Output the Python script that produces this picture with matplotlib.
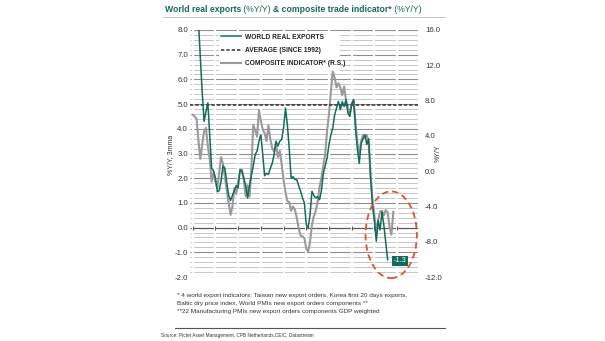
import numpy as np
import pandas as pd
import matplotlib
matplotlib.use("Agg")
import matplotlib.pyplot as plt
from matplotlib.patches import Ellipse, Rectangle
from matplotlib.lines import Line2D

plt.rcParams['font.family'] = ['Liberation Sans Narrow', 'Liberation Sans', 'DejaVu Sans']

# ---- data -------------------------------------------------------------
exports_start = "2011-04-01"
world_real_exports = [
    8.4, 6.9, 5.5, 4.3, 4.7, 5.05, 3.7, 2.4, 2.3, 2.0, 1.45, 1.5, 1.9, 2.5,
    2.4, 1.8, 1.3, 1.1, 1.3, 1.5, 1.7, 1.6, 2.35, 2.28, 2.0, 1.7, 1.2, 1.7,
    2.1, 2.5, 2.95, 3.1, 3.5, 3.76, 2.95, 2.1, 2.2, 2.15, 2.4, 2.6, 2.95,
    3.5, 3.3, 3.5, 3.56, 4.03, 4.84, 4.17, 3.2, 2.0, 2.06, 1.95, 1.94, 1.7,
    1.47, 1.2, 1.0, 0.12, 0.0, 0.52, 1.47, 1.3, 1.2, 1.25, 1.13, 1.5, 2.2,
    2.5, 2.82, 3.36, 3.76, 4.03, 4.57, 4.84, 5.11, 4.77, 5.1, 4.9, 5.18,
    4.64, 4.5, 5.0, 5.18, 4.03, 3.2, 2.6, 3.4, 3.6, 3.76, 3.36, 3.6, 2.0,
    0.9, 0.25, -0.55, 0.3, -0.1, 0.64, 0.1, -0.6, -1.3,
]

composite_start = "2011-01-01"
composite_indicator = [
    6.4, 6.2, 6.0, 3.5, 1.4, 3.0, 4.5, 4.9, 2.8, 1.3, -1.2, -0.1, -1.2, -1.9,
    -0.2, 1.6, 0.8, -0.6, -2.2, -3.6, -4.95, -4.0, -1.9, -2.6, -1.2, 0.0,
    0.16, -1.0, -2.86, -1.6, -2.9, 0.35, 5.27, 4.6, 3.9, 6.9, 5.7, 4.7, 4.3,
    3.4, 5.2, 3.6, 2.6, 2.2, 3.1, 1.6, 2.3, 0.8, -1.0, -2.4, -3.4, -3.5,
    -4.5, -4.0, -4.4, -5.3, -6.5, -7.3, -7.4, -7.6, -8.8, -9.1, -8.0, -6.1,
    -5.1, -4.5, -3.5, -1.8, -0.8, 0.6, 2.0, 4.5, 6.5, 9.0, 11.3, 10.6, 9.5,
    9.96, 9.5, 8.6, 9.6, 8.0, 7.2, 6.4, 7.6, 8.1, 5.6, 3.2, 1.9, 3.4, 4.1,
    3.8, 4.1, 3.0, -0.4, -3.2, -5.0, -7.0, -5.5, -4.6, -4.5, -5.0, -4.4,
    -4.7, -6.3, -7.2, -4.6,
]

average_since_1992 = 4.95
year_ticks = list(range(2011, 2021))
year_labels = [f"{y % 100:02d}" for y in year_ticks]

left_ticks = np.arange(-2, 9, 1)
right_ticks = np.arange(-12, 17, 4)

# ---- colours ----------------------------------------------------------
TEAL = "#146b5b"
GREY_LINE = "#9a9a9a"
AVG = "#3a2a2a"
RED = "#e0532a"
TXT = "#333333"


def fractional_years(start, n):
    d = pd.date_range(start, periods=n, freq="MS")
    return d.year + (d.month - 1) / 12.0


x_exp = fractional_years(exports_start, len(world_real_exports))
x_comp = fractional_years(composite_start, len(composite_indicator))

fig = plt.figure(figsize=(6.05, 3.41), dpi=100)
W, H = 605.0, 341.0
ax2 = fig.add_axes([190 / W, 64 / H, 228 / W, 247 / H])
ax = ax2.twinx()
ax.yaxis.tick_left()
ax2.yaxis.tick_right()
ax.set_zorder(ax2.get_zorder() + 1)
ax.patch.set_visible(False)

ax.set_xlim(2010.88, 2020.92)
ax.set_ylim(-2, 8)
ax2.set_ylim(-12, 16)

for a in (ax, ax2):
    for s in a.spines.values():
        s.set_visible(False)
    a.tick_params(length=0, labelsize=5.6, colors=TXT)

# background grid (left-axis units), drawn on the lower axes
minor_levels = [v for v in np.round(np.arange(-2, 8.01, 0.2), 1) if abs(v - round(v)) > 1e-6]
ax2.hlines(minor_levels, 2010.88, 2020.92, colors="#c6c6c6", lw=0.7,
           transform=ax.transData, zorder=0.5)
ax2.hlines([v for v in left_ticks if v != 0], 2010.88, 2020.92, colors="#8e8e8e",
           lw=0.8, transform=ax.transData, zorder=0.6)
ax2.hlines([0], 2010.88, 2020.92, colors="#5a5a5a", lw=0.9,
           transform=ax.transData, zorder=0.7)
# short year gaps in the grid
ax2.vlines(year_ticks, -2.1, 8.1, colors="white", lw=1.6,
           transform=ax.transData, zorder=0.8)
ax2.vlines(year_ticks, -0.08, 0.08, colors="#5a5a5a", lw=0.8,
           transform=ax.transData, zorder=0.9)
# white panel behind the legend
ax2.add_patch(Rectangle((0.127, 0.828), 0.53, 0.168, transform=ax2.transAxes,
                        facecolor="white", edgecolor="none", zorder=1))

# composite indicator on the right axis
comp_line, = ax2.plot(x_comp, composite_indicator, color=GREY_LINE, lw=1.5,
                      zorder=3, label="COMPOSITE INDICATOR* (R.S.)")

# average and world real exports on the left axis
avg_line = ax.axhline(average_since_1992, color=AVG, lw=1.1, ls=(0, (2.2, 1.3)),
                      zorder=2, label="AVERAGE (SINCE 1992)")
exp_line, = ax.plot(x_exp, world_real_exports, color=TEAL, lw=1.1, zorder=4,
                    label="WORLD REAL EXPORTS")

# highlight around the latest readings
ax.add_patch(Ellipse((2019.74, -0.29), 2.26, 3.51, fill=False, edgecolor=RED,
                     lw=1.3, ls=(0, (3.5, 2.2)), zorder=5, clip_on=False))

last_val = world_real_exports[-1]
ax.text(x_exp[-1] + 0.55, last_val - 0.05, f"{last_val:.1f}", color="white",
        fontsize=5.3, ha="center", va="center", zorder=6,
        bbox=dict(boxstyle="square,pad=0.25", facecolor=TEAL, edgecolor="none"))

# axes ticks and labels
ax.set_yticks(left_ticks)
ax.set_yticklabels([f"{v:.1f}" for v in left_ticks])
ax2.set_yticks(right_ticks)
ax2.set_yticklabels([f"{v:.1f}" for v in right_ticks])
ax.set_xticks(year_ticks)
ax.set_xticklabels(year_labels)
ax.tick_params(axis="y", pad=1.5)
ax2.tick_params(axis="y", pad=5)
ax.tick_params(axis="x", pad=3)
ax2.tick_params(axis="x", labelbottom=False)

fig.text(171 / W, 1 - 155 / H, "%Y/Y, 3mma", rotation=90, fontsize=5,
         ha="center", va="center", color=TXT)
fig.text(438 / W, 1 - 153 / H, "%Y/Y", rotation=90, fontsize=5,
         ha="center", va="center", color=TXT)

leg = ax.legend(handles=[exp_line, avg_line, comp_line], loc="upper left",
                bbox_to_anchor=(0.135, 0.985), frameon=False, fontsize=4.8,
                handlelength=3.1, handletextpad=0.6, labelspacing=0.95,
                borderaxespad=0, borderpad=0)
for t in leg.get_texts():
    t.set_fontweight("bold")
    t.set_color("#222222")

# title in pieces
fig.canvas.draw()
renderer = fig.canvas.get_renderer()
tx, ty = 165 / W, 1 - 10 / H
pieces = [("World real exports", "bold"), (" (%Y/Y) ", "normal"),
          ("& composite trade indicator*", "bold"), (" (%Y/Y)", "normal")]
for txt, wt in pieces:
    t = fig.text(tx, ty, txt, fontsize=6.2, fontweight=wt, color=TEAL,
                 ha="left", va="center")
    bb = t.get_window_extent(renderer=renderer)
    tx = fig.transFigure.inverted().transform((bb.x1, bb.y0))[0]

fig.add_artist(Line2D([163 / W, 445 / W], [1 - 17 / H] * 2, color="#bdbdbd",
                      lw=0.6, transform=fig.transFigure))

notes = ["* 4 world export indicators: Taiwan new export orders, Korea first 20 days exports,",
         "Baltic dry price index, World PMIs new export orders components **",
         "**22 Manufacturing PMIs new export orders components GDP weighted"]
for i, line in enumerate(notes):
    fig.text(177 / W, 1 - (295 + 8.5 * i) / H, line, fontsize=4.6, color=TXT,
             ha="left", va="center")

fig.add_artist(Line2D([175 / W, 445 / W], [1 - 328 / H] * 2, color="#555555",
                      lw=0.8, transform=fig.transFigure))
fig.text(161 / W, 1 - 335 / H,
         "Source: Pictet Asset Management, CPB Netherlands,CEIC, Datastream",
         fontsize=3.4, color=TXT, ha="left", va="center")

fig.savefig("out.png", dpi=100, facecolor="white")
